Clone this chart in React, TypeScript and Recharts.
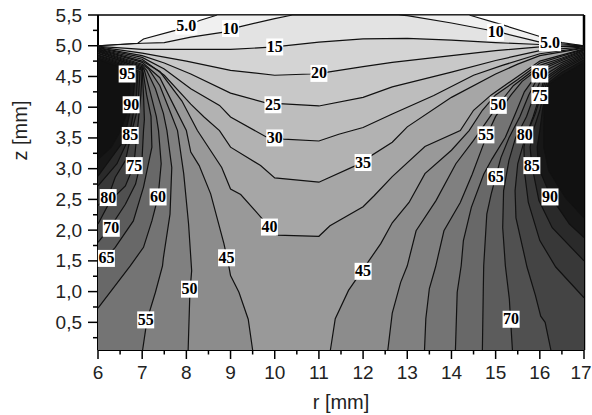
import { ScatterChart, Scatter, XAxis, YAxis } from "recharts";

type Pt = [number, number];

const zMin = 0.05;
const rTicks = [6, 6.5, 7, 7.5, 8, 8.5, 9, 9.5, 10, 10.5, 11, 11.5, 12, 12.5, 13, 13.5, 14, 14.5, 15, 15.5, 16, 16.5, 17];
const zTicks = [0.25, 0.5, 0.75, 1, 1.25, 1.5, 1.75, 2, 2.25, 2.5, 2.75, 3, 3.25, 3.5, 3.75, 4, 4.25, 4.5, 4.75, 5, 5.25, 5.5];

// contour lines, [r, z]
const c5: Pt[] = [[6, 5], [6.9, 5.04], [7.03, 5.11], [7.75, 5.25], [8.3, 5.41], [8.7, 5.5], [14.4, 5.5], [15.2, 5.33], [16, 5.15], [16.5, 5.05], [17, 5]];
const c10: Pt[] = [[6, 5], [7, 5.04], [7.5, 5.05], [8.1, 5.14], [8.85, 5.22], [9.15, 5.3], [10, 5.44], [10.4, 5.5], [12.8, 5.5], [13, 5.49], [14, 5.37], [14.8, 5.26], [15.2, 5.2], [16, 5.06], [17, 5]];
const c15: Pt[] = [[6, 4.99], [7, 4.94], [8, 4.94], [9, 4.94], [10, 4.98], [11, 5.06], [12, 5.11], [13, 5.12], [14, 5.09], [15, 5.05], [16, 5.02], [17, 5]];
const c20: Pt[] = [[6, 4.98], [7, 4.88], [8, 4.75], [9, 4.6], [10, 4.52], [10.8, 4.54], [11.2, 4.57], [12, 4.66], [12.66, 4.73], [14, 4.84], [15, 4.92], [16, 4.98], [17, 4.99]];
const c25: Pt[] = [[6, 4.97], [7, 4.84], [7.5, 4.72], [8.1, 4.54], [9, 4.23], [9.8, 4.07], [11, 4.02], [12, 4.16], [12.66, 4.33], [14, 4.57], [15, 4.76], [16, 4.92], [17, 4.98]];
const c30: Pt[] = [[6, 4.96], [7, 4.81], [7.5, 4.62], [8.1, 4.3], [8.75, 4.03], [9, 3.84], [9.8, 3.52], [10.2, 3.48], [11, 3.45], [11.45, 3.56], [12, 3.67], [12.66, 3.89], [13.6, 4.19], [14.5, 4.52], [15.15, 4.68], [16, 4.87], [17, 4.97]];
const c35: Pt[] = [[6, 4.95], [7, 4.78], [7.5, 4.52], [8.1, 4.05], [8.4, 3.84], [8.75, 3.62], [9, 3.35], [9.68, 3.05], [10, 2.85], [11, 2.78], [11.83, 3.05], [12.66, 3.43], [13, 3.68], [14, 4.16], [15, 4.54], [15.5, 4.7], [16, 4.84], [17, 4.96]];
const c40: Pt[] = [[6, 4.94], [7, 4.75], [7.4, 4.58], [7.9, 4.1], [8.25, 3.62], [8.8, 3.02], [9, 2.67], [9.23, 2.58], [9.7, 2.2], [10.05, 1.92], [11, 1.9], [11.25, 2.07], [12, 2.38], [12.25, 2.56], [12.66, 2.87], [13.4, 3.36], [14.2, 3.62], [14.5, 3.95], [14.9, 4.2], [15.5, 4.5], [16, 4.75], [17, 4.95]];

const c45L: Pt[] = [[6, 4.93], [7, 4.73], [7.4, 4.48], [7.7, 4.05], [8, 3.62], [8.1, 3.27], [8.29, 3.05], [8.55, 2.59], [8.85, 1.78], [8.96, 1.42], [9, 1.26], [9.19, 0.99], [9.4, 0.55], [9.5, 0.05]];
const c50L: Pt[] = [[6, 4.92], [7, 4.7], [7.15, 4.62], [7.4, 4.35], [7.62, 3.95], [7.8, 3.62], [7.94, 2.92], [8.05, 2.1], [8.12, 1.34], [8.08, 0.99], [8.04, 0.05]];
const c55L: Pt[] = [[6, 4.91], [7, 4.68], [7.1, 4.6], [7.3, 4.3], [7.48, 3.9], [7.56, 3.62], [7.67, 3.02], [7.63, 2.26], [7.48, 1.55], [7.46, 1.42], [7.3, 0.99], [7.11, 0.54], [7.01, 0.05]];
const c60L: Pt[] = [[6, 4.9], [7, 4.66], [7.05, 4.6], [7.18, 4.25], [7.32, 3.85], [7.37, 3.62], [7.43, 3.08], [7.36, 2.54], [7.22, 2.15], [7.03, 1.72], [6.73, 1.42], [6, 0.73]];
const c65L: Pt[] = [[6, 4.88], [7, 4.64], [7.02, 4.58], [7.1, 4.2], [7.2, 3.85], [7.22, 3.35], [7.03, 2.7], [6.8, 2.15], [6.39, 1.72], [6, 1.4]];
const c70L: Pt[] = [[6, 4.87], [6.5, 4.76], [7, 4.62], [7.03, 4.2], [7.05, 3.8], [7.03, 3.62], [7, 3.2], [6.85, 2.75], [6.62, 2.42], [6.28, 2.05], [6, 1.8]];
const c75L: Pt[] = [[6, 4.85], [6.5, 4.74], [7, 4.6], [6.97, 4.2], [6.93, 3.9], [6.89, 3.62], [6.81, 3.05], [6.62, 2.72], [6.28, 2.48], [6, 2.1]];
const c80L: Pt[] = [[6, 4.84], [6.5, 4.72], [6.95, 4.58], [6.92, 4.2], [6.87, 3.9], [6.77, 3.62], [6.62, 3.13], [6.39, 2.86], [6.24, 2.56], [6, 2.4]];
const c85L: Pt[] = [[6, 4.82], [6.5, 4.7], [6.9, 4.57], [6.87, 4.2], [6.8, 3.9], [6.7, 3.5], [6.43, 3.08], [6, 2.72]];
const c90L: Pt[] = [[6, 4.8], [6.5, 4.68], [6.85, 4.56], [6.8, 4.2], [6.72, 3.9], [6.58, 3.45], [6, 2.88]];
const c95L: Pt[] = [[6, 4.78], [6.5, 4.65], [6.7, 4.55], [6.72, 4.2], [6.65, 3.9], [6.5, 3.6], [6.3, 3.35], [6, 3.15]];

const c45R: Pt[] = [[11.26, 0.05], [11.37, 0.56], [11.67, 1.02], [12.13, 1.5], [12.4, 1.78], [12.66, 2.12], [13.04, 2.45], [13.4, 2.92], [14, 3.3], [14.4, 3.62], [14.7, 3.95], [15, 4.2], [15.5, 4.45], [16, 4.72], [17, 4.94]];
const c50R: Pt[] = [[12.56, 0.05], [12.66, 0.65], [12.85, 1.15], [13, 1.42], [13.2, 1.99], [13.65, 2.48], [14.1, 3.08], [14.5, 3.46], [15.05, 4.03], [15.4, 4.35], [16, 4.68], [16.5, 4.8], [17, 4.93]];
const c55R: Pt[] = [[13.39, 0.05], [13.42, 0.56], [13.5, 1.05], [13.64, 1.4], [13.83, 1.99], [14.2, 2.45], [14.47, 2.91], [14.7, 3.35], [14.8, 3.54], [15, 3.85], [15.35, 4.2], [15.6, 4.42], [16, 4.64], [16.5, 4.78], [17, 4.92]];
const c60R: Pt[] = [[14.09, 0.05], [14.13, 0.99], [14.22, 1.42], [14.27, 1.83], [14.45, 2.37], [14.73, 2.91], [14.92, 3.16], [15.22, 3.51], [15.45, 3.9], [15.65, 4.25], [16, 4.6], [16.5, 4.76], [17, 4.9]];
const c65R: Pt[] = [[14.7, 0.05], [14.72, 1], [14.73, 1.42], [14.8, 2.26], [14.9, 2.59], [15, 2.86], [15.12, 3.18], [15.3, 3.5], [15.55, 3.85], [15.75, 4.2], [16, 4.55], [16.5, 4.73], [17, 4.88]];
const c70R: Pt[] = [[15.38, 0.05], [15.31, 0.88], [15.22, 1.42], [15.16, 2.04], [15.18, 2.64], [15.3, 3.13], [15.45, 3.5], [15.7, 3.85], [15.85, 4.15], [16.05, 4.5], [16.5, 4.7], [17, 4.86]];
const c75R: Pt[] = [[16.25, 0.05], [16.12, 0.5], [16.02, 0.6], [15.9, 0.94], [15.71, 1.4], [15.46, 2.2], [15.44, 2.64], [15.5, 3.08], [15.65, 3.46], [15.85, 3.85], [15.97, 4.12], [16.1, 4.47], [16.5, 4.67], [17, 4.84]];
const c80R: Pt[] = [[17, 0.9], [16.36, 1.4], [16, 1.83], [15.74, 2.45], [15.66, 2.91], [15.64, 3.35], [15.7, 3.55], [15.9, 3.9], [16.03, 4.2], [16.13, 4.45], [16.5, 4.64], [17, 4.82]];
const c85R: Pt[] = [[17, 1.5], [16.28, 2.04], [15.98, 2.48], [15.82, 3.05], [15.78, 3.35], [15.85, 3.62], [16, 3.95], [16.08, 4.2], [16.16, 4.42], [16.5, 4.61], [17, 4.8]];
const c90R: Pt[] = [[17, 1.88], [16.67, 2.1], [16.25, 2.54], [15.97, 3.02], [15.94, 3.35], [16, 3.62], [16.06, 3.95], [16.12, 4.2], [16.2, 4.4], [16.5, 4.57], [17, 4.77]];
const c95R: Pt[] = [[17, 2.2], [16.58, 2.53], [16.2, 2.97], [16.09, 3.35], [16.09, 3.62], [16.1, 4], [16.16, 4.2], [16.22, 4.38], [16.5, 4.52], [17, 4.73]];

const labelTexts = ["5.0", "10", "15", "20", "25", "30", "35", "40", "45", "45", "50", "55", "60", "65", "70", "75", "80", "85", "90", "95", "10", "5.0", "60", "75", "50", "55", "80", "85", "65", "90", "70"];
const labelR = [8, 9, 10, 11, 9.96, 10, 12, 9.88, 8.91, 12, 8.07, 7.08, 7.36, 6.19, 6.3, 6.82, 6.23, 6.73, 6.75, 6.66, 15, 16.23, 16, 16, 15.06, 14.78, 15.66, 15.82, 15, 16.23, 15.35];
const labelZ = [5.32, 5.28, 4.98, 4.55, 4.04, 3.5, 3.1, 2.05, 1.55, 1.33, 1.04, 0.54, 2.54, 1.54, 2.03, 3.05, 2.53, 3.54, 4.04, 4.54, 5.22, 5.05, 4.54, 4.19, 4.03, 3.55, 3.55, 3.05, 2.87, 2.54, 0.55];

const whole = [c5, c10, c15, c20, c25, c30, c35, c40];
const wholeFills = ["#f0f0f0", "#e3e3e3", "#d4d4d4", "#c8c8c8", "#bdbdbd", "#b2b2b2", "#a6a6a6", "#999999"];
const lefts = [c45L, c50L, c55L, c60L, c65L, c70L, c75L, c80L, c85L, c90L, c95L];
const rights = [c45R, c50R, c55R, c60R, c65R, c70R, c75R, c80R, c85R, c90R, c95R];
const sideFills = ["#8c8c8c", "#808080", "#747474", "#686868", "#5c5c5c", "#505050", "#444444", "#383838", "#2a2a2a", "#171717", "#111111"];

const toRows = (pts: Pt[]) => pts.map(([r, z]) => ({ r, z }));

// closed outline of the area above a level, painted from light to dark
const wholeArea = (c: Pt[]): Pt[] => [...c, [17, zMin], [6, zMin]];
const leftArea = (c: Pt[]): Pt[] => (c[c.length - 1][1] === zMin ? [...c, [6, zMin]] : c);
const rightArea = (c: Pt[]): Pt[] => (c[0][1] === zMin ? [...c, [17, zMin]] : c);

const areas: { pts: Pt[]; fill: string }[] = [
  ...whole.map((c, i) => ({ pts: wholeArea(c), fill: wholeFills[i] })),
  ...lefts.map((c, i) => ({ pts: leftArea(c), fill: sideFills[i] })),
  ...rights.map((c, i) => ({ pts: rightArea(c), fill: sideFills[i] })),
];
const contours = [...whole, ...lefts, ...rights];
const labels = labelTexts.map((text, i) => ({ r: labelR[i], z: labelZ[i], text }));

const sans = "'Liberation Sans', Arial, sans-serif";
const serif = "'Liberation Serif', 'Times New Roman', serif";
const noDot = () => null;

const ContourLabel = (props: any) => {
  const { cx, cy, payload } = props;
  const w = payload.text.length > 2 ? 22 : 17;
  return (
    <g>
      <rect x={cx - w / 2} y={cy - 8.5} width={w} height={17} fill="#fff" />
      <text x={cx} y={cy + 5} textAnchor="middle" fontFamily={serif} fontWeight="bold" fontSize={16} fill="#000">
        {payload.text}
      </text>
    </g>
  );
};

const BottomTick = ({ x, y, payload }: any) => {
  const major = Number.isInteger(payload.value);
  // the last label sits right against the picture edge
  const shift = payload.value === 17 ? -3 : 0;
  return (
    <g>
      <line x1={x} x2={x} y1={y} y2={y + (major ? 9 : 4.5)} stroke="#000" strokeWidth={1.5} />
      {major && (
        <text x={x + shift} y={y + 29} textAnchor="middle" fontFamily={sans} fontSize={19} fill="#222">
          {payload.value}
        </text>
      )}
    </g>
  );
};

const TopTick = ({ x, y, payload }: any) => (
  <line x1={x} x2={x} y1={y} y2={y + (Number.isInteger(payload.value) ? 9 : 4.5)} stroke="#000" strokeWidth={1.5} />
);

const LeftTick = ({ x, y, payload }: any) => {
  const major = Number.isInteger(payload.value * 2);
  return (
    <g>
      <line x1={x} x2={x - (major ? 10 : 5)} y1={y} y2={y} stroke="#000" strokeWidth={1.5} />
      {major && (
        <text x={x - 16} y={y + 6.5} textAnchor="end" fontFamily={sans} fontSize={19} fill="#222">
          {payload.value.toFixed(1).replace(".", ",")}
        </text>
      )}
    </g>
  );
};

const RightTick = ({ x, y, payload }: any) => (
  <line x1={x} x2={x - (Number.isInteger(payload.value * 2) ? 10 : 5)} y1={y} y2={y} stroke="#000" strokeWidth={1.5} />
);

export default function App() {
  return (
    <div style={{ position: "absolute", left: 0, top: 0, width: 592, height: 415, background: "#fff" }}>
      <ScatterChart width={592} height={415} margin={{ top: 14, right: 7, bottom: 64, left: 97 }}>
        <XAxis
          xAxisId="b"
          type="number"
          dataKey="r"
          domain={[6, 17]}
          ticks={rTicks}
          interval={0}
          height={1}
          tickSize={0}
          tickMargin={0}
          tickLine={false}
          tick={<BottomTick />}
          axisLine={{ stroke: "#000", strokeWidth: 2 }}
          label={{ value: "r [mm]", position: "bottom", offset: 44, fontFamily: sans, fontSize: 20, fill: "#222" }}
        />
        <XAxis
          xAxisId="t"
          orientation="top"
          type="number"
          dataKey="r"
          domain={[6, 17]}
          ticks={rTicks}
          interval={0}
          height={1}
          tickSize={0}
          tickMargin={0}
          tickLine={false}
          tick={<TopTick />}
          axisLine={{ stroke: "#000", strokeWidth: 1.5 }}
        />
        <YAxis
          yAxisId="l"
          type="number"
          dataKey="z"
          domain={[zMin, 5.5]}
          ticks={zTicks}
          interval={0}
          width={1}
          tickSize={0}
          tickMargin={0}
          tickLine={false}
          tick={<LeftTick />}
          axisLine={{ stroke: "#000", strokeWidth: 2 }}
          label={{ value: "z [mm]", angle: -90, position: "left", offset: 77, dy: -82, fontFamily: sans, fontSize: 20, fill: "#222" }}
        />
        <YAxis
          yAxisId="r"
          orientation="right"
          type="number"
          dataKey="z"
          domain={[zMin, 5.5]}
          ticks={zTicks}
          interval={0}
          width={1}
          tickSize={0}
          tickMargin={0}
          tickLine={false}
          tick={<RightTick />}
          axisLine={{ stroke: "#000", strokeWidth: 2.5 }}
        />
        {areas.map((a, i) => (
          <Scatter
            key={`area-${i}`}
            xAxisId="b"
            yAxisId="l"
            data={toRows(a.pts)}
            shape={noDot}
            line={{ fill: a.fill, stroke: "none" }}
            isAnimationActive={false}
          />
        ))}
        {contours.map((c, i) => (
          <Scatter
            key={`line-${i}`}
            xAxisId="b"
            yAxisId="l"
            data={toRows(c)}
            shape={noDot}
            line={{ fill: "none", stroke: "#111", strokeWidth: 1.2 }}
            isAnimationActive={false}
          />
        ))}
        <Scatter xAxisId="b" yAxisId="l" data={labels} shape={<ContourLabel />} isAnimationActive={false} />
      </ScatterChart>
    </div>
  );
}
